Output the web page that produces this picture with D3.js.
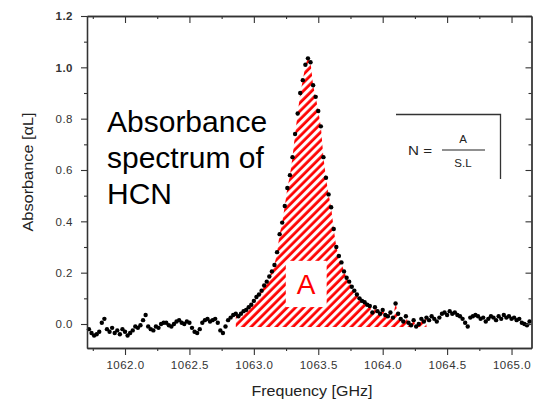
<!DOCTYPE html>
<html><head><meta charset="utf-8">
<script src="https://cdn.jsdelivr.net/npm/d3@7"></script>
<style>html,body{margin:0;padding:0;background:#fff;} svg{display:block;}</style>
</head><body>
<svg id="chart" width="533" height="403"></svg>
<script>
// ---- data ----
const freq = [
1061.72,1061.74,1061.76,1061.78,1061.80,1061.82,1061.84,1061.86,1061.88,1061.90,
1061.92,1061.94,1061.96,1061.98,1062.00,1062.02,1062.04,1062.06,1062.08,1062.10,
1062.12,1062.14,1062.16,1062.18,1062.20,1062.22,1062.24,1062.26,1062.28,1062.30,
1062.32,1062.34,1062.36,1062.38,1062.40,1062.42,1062.44,1062.46,1062.48,1062.50,
1062.52,1062.54,1062.56,1062.58,1062.60,1062.62,1062.64,1062.66,1062.68,1062.70,
1062.72,1062.74,1062.76,1062.78,1062.80,1062.82,1062.84,1062.86,1062.88,1062.90,
1062.92,1062.94,1062.96,1062.98,1063.00,1063.02,1063.04,1063.06,1063.08,1063.10,
1063.12,1063.14,1063.16,1063.18,1063.20,1063.22,1063.24,1063.26,1063.28,1063.30,
1063.32,1063.34,1063.36,1063.38,1063.40,1063.42,1063.44,1063.46,1063.48,1063.50,
1063.52,1063.54,1063.56,1063.58,1063.60,1063.62,1063.64,1063.66,1063.68,1063.70,
1063.72,1063.74,1063.76,1063.78,1063.80,1063.82,1063.84,1063.86,1063.88,1063.90,
1063.92,1063.94,1063.96,1063.98,1064.00,1064.02,1064.04,1064.06,1064.08,1064.10,
1064.12,1064.14,1064.16,1064.18,1064.20,1064.22,1064.24,1064.26,1064.28,1064.30,
1064.32,1064.34,1064.36,1064.38,1064.40,1064.42,1064.44,1064.46,1064.48,1064.50,
1064.52,1064.54,1064.56,1064.58,1064.60,1064.62,1064.64,1064.66,1064.68,1064.70,
1064.72,1064.74,1064.76,1064.78,1064.80,1064.82,1064.84,1064.86,1064.88,1064.90,
1064.92,1064.94,1064.96,1064.98,1065.00,1065.02,1065.04,1065.06,1065.08,1065.10,1065.12,1065.14
];
const absorbance = [
-0.020,-0.035,-0.045,-0.040,-0.030,0.005,0.020,-0.020,-0.030,-0.015,
-0.035,-0.025,-0.040,-0.020,-0.030,-0.045,-0.035,-0.025,-0.010,-0.015,
-0.005,0.015,0.035,-0.010,-0.020,-0.025,-0.010,-0.015,0.000,0.005,
0.005,-0.005,-0.010,0.000,0.010,0.015,0.005,0.000,0.010,0.005,
-0.015,-0.030,-0.035,-0.020,0.005,0.015,0.020,0.010,0.015,0.020,
0.005,-0.025,-0.035,-0.010,0.015,0.025,0.035,0.040,0.030,0.040,
0.050,0.055,0.065,0.075,0.090,0.105,0.115,0.130,0.150,0.165,
0.185,0.205,0.230,0.280,0.350,0.395,0.460,0.530,0.580,0.650,
0.740,0.820,0.900,0.950,1.010,1.035,1.020,0.930,0.885,0.830,
0.770,0.650,0.570,0.505,0.455,0.370,0.300,0.265,0.240,0.205,
0.180,0.165,0.145,0.130,0.115,0.100,0.090,0.085,0.075,0.070,
0.045,0.065,0.050,0.040,0.055,0.035,0.030,0.045,0.025,0.080,
0.040,0.020,0.010,0.030,0.005,-0.005,0.015,-0.010,0.000,0.020,
0.010,0.025,0.015,0.030,0.020,0.010,0.025,0.040,0.045,0.035,
0.050,0.040,0.045,0.035,0.030,0.020,0.005,-0.010,0.025,0.030,
0.035,0.030,0.020,0.025,0.010,0.020,0.030,0.025,0.015,0.030,
0.020,0.035,0.025,0.030,0.020,0.025,0.015,0.020,0.005,0.000,-0.005,0.010
];
const xTicks = [1062.0,1062.5,1063.0,1063.5,1064.0,1064.5,1065.0];
const xMinorTicks = [1061.75,1062.25,1062.75,1063.25,1063.75,1064.25,1064.75];
const yTicks = [0.0,0.2,0.4,0.6,0.8,1.0,1.2];
const yMinorTicks = [0.1,0.3,0.5,0.7,0.9,1.1];
const fillRange = [1062.86, 1064.34];
const fillBase = -0.012;
const titleLines = ["Absorbance", "spectrum of", "HCN"];
const areaLabel = "A";

// ---- layout ----
const svg = d3.select("#chart");
const L = 87, R = 531.5, T = 16, B = 348;
const x = d3.scaleLinear().domain([1061.705, 1065.155]).range([L, R]);
const y = d3.scaleLinear().domain([-0.0935, 1.2]).range([B, T]);
const data = freq.map((f, i) => ({f, v: absorbance[i]}));
const axisColor = "#333";
const font = "'Liberation Sans', Arial, sans-serif";
const red = "#ff0000";

svg.append("rect").attr("width",533).attr("height",403).attr("fill","#fff");

// hatch pattern
const defs = svg.append("defs");
const pat = defs.append("pattern").attr("id","hatch")
  .attr("patternUnits","userSpaceOnUse").attr("width",5.9).attr("height",5.9)
  .attr("patternTransform","rotate(45)");
pat.append("rect").attr("width",5.9).attr("height",5.9).attr("fill","#fff");
pat.append("line").attr("x1",1.6).attr("y1",-1).attr("x2",1.6).attr("y2",7)
  .attr("stroke",red).attr("stroke-width",2.8);

const fillData = data.filter(d => d.f >= fillRange[0] && d.f <= fillRange[1]);
svg.append("path").datum(fillData)
  .attr("fill","url(#hatch)")
  .attr("d", d3.area().x(d => x(d.f)).y0(y(fillBase)).y1(d => y(Math.max(d.v, fillBase))));

// white box with "A"
svg.append("rect")
  .attr("x", x(1063.248)).attr("y", y(0.246))
  .attr("width", x(1063.565) - x(1063.248)).attr("height", y(0.066) - y(0.246))
  .attr("fill","#fff");
svg.append("text").attr("x", x(1063.405)).attr("y", y(0.152))
  .attr("text-anchor","middle").attr("dominant-baseline","central")
  .attr("font-family", font).attr("font-size", 28).attr("fill",red)
  .text(areaLabel);

// data points
svg.append("g").selectAll("circle").data(data).join("circle")
  .attr("cx", d => x(d.f)).attr("cy", d => y(d.v)).attr("r", 2.2).attr("fill","#000");

// axes
function styleAxis(g) {
  g.select(".domain").attr("stroke", axisColor).attr("stroke-width", 1.3);
  g.selectAll(".tick line").attr("stroke", axisColor).attr("stroke-width", 1.1);
  g.selectAll(".tick text").attr("fill", "#333").attr("font-family", font)
    .attr("font-size", 11.5).style("letter-spacing","0.5px");
}
const fmt = d3.format(".1f");
svg.append("g").attr("transform",`translate(0,${B})`)
  .call(d3.axisBottom(x).tickValues(xTicks).tickSizeInner(7).tickSizeOuter(0).tickFormat(fmt).tickPadding(6))
  .call(styleAxis);
svg.append("g").attr("transform",`translate(0,${B})`)
  .call(d3.axisBottom(x).tickValues(xMinorTicks).tickSizeInner(3).tickSizeOuter(0).tickFormat(""))
  .call(styleAxis);
svg.append("g").attr("transform",`translate(0,${T})`)
  .call(d3.axisTop(x).tickValues(xTicks).tickSizeInner(-7).tickSizeOuter(0).tickFormat(""))
  .call(styleAxis);
svg.append("g").attr("transform",`translate(0,${T})`)
  .call(d3.axisTop(x).tickValues(xMinorTicks).tickSizeInner(-3).tickSizeOuter(0).tickFormat(""))
  .call(styleAxis);
svg.append("g").attr("transform",`translate(${L},0)`)
  .call(d3.axisLeft(y).tickValues(yTicks).tickSizeInner(6).tickSizeOuter(0).tickFormat(fmt).tickPadding(8))
  .call(styleAxis)
  .call(g => g.selectAll(".tick text").attr("font-weight", d => d >= 1 ? "bold" : null));
svg.append("g").attr("transform",`translate(${L},0)`)
  .call(d3.axisLeft(y).tickValues(yMinorTicks).tickSizeInner(3).tickSizeOuter(0).tickFormat(""))
  .call(styleAxis);
svg.append("g").attr("transform",`translate(${R},0)`)
  .call(d3.axisRight(y).tickValues(yTicks).tickSizeInner(-6).tickSizeOuter(0).tickFormat(""))
  .call(styleAxis);
svg.append("g").attr("transform",`translate(${R},0)`)
  .call(d3.axisRight(y).tickValues(yMinorTicks).tickSizeInner(-3).tickSizeOuter(0).tickFormat(""))
  .call(styleAxis);

// axis titles
svg.append("text").attr("x", 312).attr("y", 396).attr("text-anchor","middle")
  .attr("font-family", font).attr("font-size", 14).attr("fill","#222")
  .attr("textLength", 121).attr("lengthAdjust","spacingAndGlyphs")
  .text("Frequency [GHz]");
svg.append("text").attr("transform","translate(33,172) rotate(-90)").attr("text-anchor","middle")
  .attr("font-family", font).attr("font-size", 14).attr("fill","#222")
  .attr("textLength", 119).attr("lengthAdjust","spacingAndGlyphs")
  .text("Absorbance [αL]");

// overlay title
svg.append("g").selectAll("text").data(titleLines).join("text")
  .attr("x", 107).attr("y", (d, i) => 132 + i * 36)
  .attr("font-family", font).attr("font-size", 30).attr("fill","#000")
  .text(d => d);

// formula box
const fg = svg.append("g");
fg.append("path").attr("d","M396,114.5H500.5V179").attr("fill","none")
  .attr("stroke","#333").attr("stroke-width",1.3);
fg.append("text").attr("x",408).attr("y",155).attr("font-family",font).attr("font-size",12)
  .attr("fill","#222").attr("textLength",24).attr("lengthAdjust","spacingAndGlyphs").text("N =");
fg.append("text").attr("x",463).attr("y",143).attr("text-anchor","middle").attr("font-family",font)
  .attr("font-size",11.5).attr("fill","#222").text("A");
fg.append("line").attr("x1",442).attr("x2",485).attr("y1",150).attr("y2",150)
  .attr("stroke","#222").attr("stroke-width",1.1);
fg.append("text").attr("x",463).attr("y",167).attr("text-anchor","middle").attr("font-family",font)
  .attr("font-size",11.5).attr("fill","#222").text("S.L");
</script>
</body></html>
